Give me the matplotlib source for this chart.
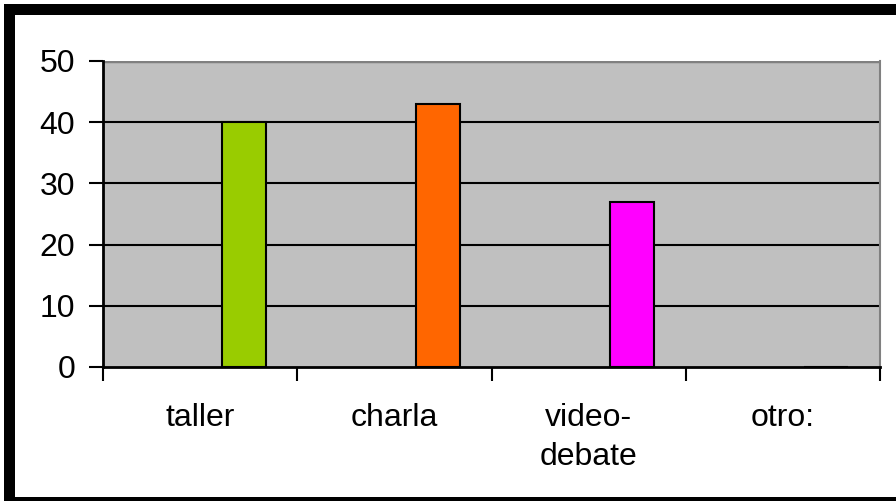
# encuesta - bar chart of preferred activity types

# require
import matplotlib
matplotlib.use( 'Agg' )
import matplotlib.pyplot as plt
from matplotlib.patches import Rectangle

# data
CATEGORIES = [ 'taller', 'charla', 'video-\ndebate', 'otro:' ]
VALUES     = [ 40, 43, 27, 0 ]
COLORS     = [ '#99CC00', '#FF6600', '#FF00FF', '#FF00FF' ]
YTICKS     = [ 0, 10, 20, 30, 40, 50 ]

# configure
plt.rcParams[ 'font.family' ] = [ 'Liberation Sans', 'DejaVu Sans' ]
W, H, DPI = 896, 501, 100
FONTSIZE  = 23

# initialize
figure = plt.figure( figsize=( W / DPI, H / DPI ), dpi=DPI )
figure.patch.set_facecolor( 'white' )
axis = figure.add_axes( [ 103 / W, 1 - 367 / H, ( 880 - 103 ) / W, ( 367 - 61 ) / H ] )
axis.set_facecolor( '#C0C0C0' )

# grid
for y in YTICKS[ 1: ] :
	axis.axhline( y, color='black', linewidth=1.5, zorder=1 )
axis.axhline( YTICKS[ -1 ], color='#808080', linewidth=2.5, zorder=1 )

# bars; offset to the right of each category centre
positions = [ i + 0.224 for i in range( len( CATEGORIES ) ) ]
axis.bar( positions, VALUES, width=0.227, color=COLORS, edgecolor='black', linewidth=1.5, zorder=2 )

# axes
axis.set_xlim( -0.5, len( CATEGORIES ) - 0.5 )
axis.set_ylim( 0, 50 )
axis.set_yticks( YTICKS )
axis.tick_params( axis='y', direction='out', length=10, width=1.5, pad=10, labelsize=FONTSIZE )
axis.set_xticks( [ i - 0.5 for i in range( len( CATEGORIES ) + 1 ) ] )
axis.set_xticklabels( [] )
axis.tick_params( axis='x', which='major', direction='out', length=10, width=1.5 )
axis.set_xticks( range( len( CATEGORIES ) ), minor=True )
axis.set_xticklabels( CATEGORIES, minor=True, fontsize=FONTSIZE, linespacing=1.4 )
axis.tick_params( axis='x', which='minor', length=0, pad=26 )
for label in axis.get_xticklabels( minor=True ) :
	label.set_verticalalignment( 'top' )

for side in [ 'left', 'bottom' ] :
	axis.spines[ side ].set_color( 'black' )
	axis.spines[ side ].set_linewidth( 2 )
	axis.spines[ side ].set_zorder( 3 )
axis.spines[ 'top' ].set_visible( False )
axis.spines[ 'right' ].set_color( '#808080' )
axis.spines[ 'right' ].set_linewidth( 1.5 )

# outer frame: left, top and bottom bands, in pixels
for x0, y0, w, h in [ ( 4, 4, 11, 497 ), ( 4, 4, 892, 11 ), ( 4, 497, 892, 4 ) ] :
	figure.add_artist( Rectangle( ( x0 / W, 1 - ( y0 + h ) / H ), w / W, h / H, transform=figure.transFigure,
		facecolor='black', edgecolor='none', zorder=10 ) )

# done
figure.savefig( 'out.png', dpi=DPI )
